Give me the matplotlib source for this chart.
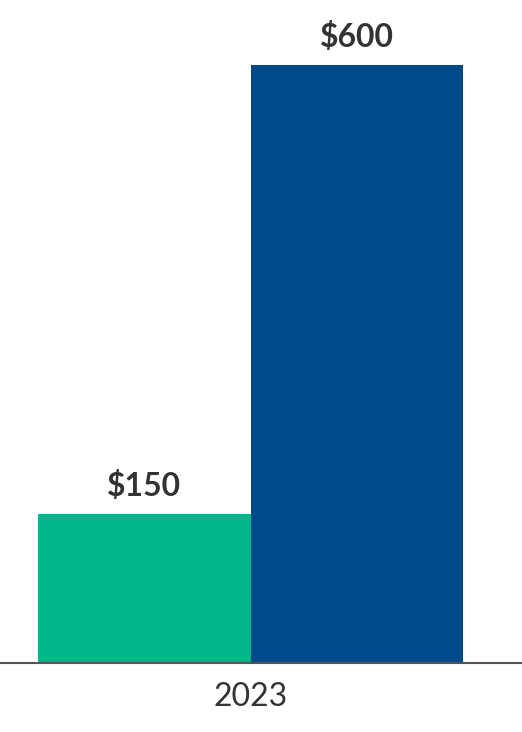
import matplotlib.pyplot as plt

categories = ["2023"]
series_names = ["A", "B"]
values = [150, 600]
value_labels = ["$150", "$600"]
colors = ["#00B589", "#004A89"]

plt.rcParams["font.family"] = ["Lato", "DejaVu Sans"]

fig = plt.figure(figsize=(5.22, 7.32), dpi=100)
ax = fig.add_axes([0, 69 / 732, 1, 663 / 732])

offsets = [-0.5, 0.5]
for off, val, lab, col in zip(offsets, values, value_labels, colors):
    bar = ax.bar(off, val, width=1.0, color=col)
    ax.annotate(lab, (off, val), xytext=(0, 9), textcoords="offset points",
                ha="center", va="bottom", fontsize=23, fontweight="bold", color="#333333")

ax.set_xlim(-1 - 38 / 212.5, 1 + 59 / 212.5)
ax.set_ylim(0, 600 * 663 / 598)
ax.set_xticks([0])
ax.set_xticklabels(categories, fontsize=23, color="#333333")
ax.tick_params(axis="x", length=0, pad=14)
ax.set_yticks([])
for side in ["top", "right", "left"]:
    ax.spines[side].set_visible(False)
ax.spines["bottom"].set_color("#555555")
ax.spines["bottom"].set_linewidth(1.5)

fig.savefig("out.png", dpi=100)
